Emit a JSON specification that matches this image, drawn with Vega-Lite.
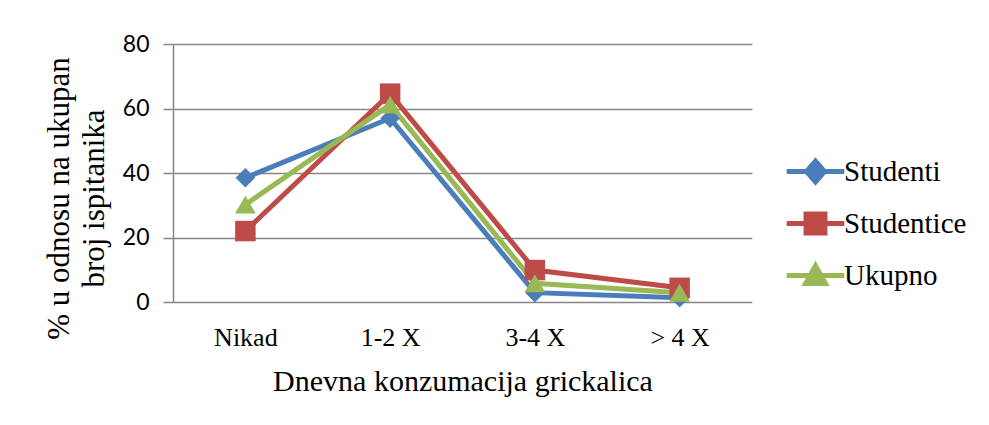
{
  "$schema": "https://vega.github.io/schema/vega-lite/v6.json",
  "width": 579,
  "height": 258,
  "autosize": {"type": "none"},
  "padding": {"left": 173, "top": 44, "right": 237, "bottom": 123},
  "background": "white",
  "config": {"view": {"stroke": null}},
  "data": {
    "values": [
      {"kategorija": "Nikad", "grupa": "Studenti", "vrijednost": 38.5},
      {"kategorija": "1-2 X", "grupa": "Studenti", "vrijednost": 57.0},
      {"kategorija": "3-4 X", "grupa": "Studenti", "vrijednost": 2.9},
      {"kategorija": "> 4 X", "grupa": "Studenti", "vrijednost": 1.3},
      {"kategorija": "Nikad", "grupa": "Studentice", "vrijednost": 22.0},
      {"kategorija": "1-2 X", "grupa": "Studentice", "vrijednost": 64.6},
      {"kategorija": "3-4 X", "grupa": "Studentice", "vrijednost": 9.9},
      {"kategorija": "> 4 X", "grupa": "Studentice", "vrijednost": 4.4},
      {"kategorija": "Nikad", "grupa": "Ukupno", "vrijednost": 30.2},
      {"kategorija": "1-2 X", "grupa": "Ukupno", "vrijednost": 61.2},
      {"kategorija": "3-4 X", "grupa": "Ukupno", "vrijednost": 5.8},
      {"kategorija": "> 4 X", "grupa": "Ukupno", "vrijednost": 2.9}
    ]
  },
  "encoding": {
    "x": {
      "field": "kategorija",
      "type": "nominal",
      "sort": ["Nikad", "1-2 X", "3-4 X", "> 4 X"],
      "axis": {
        "title": "Dnevna konzumacija grickalica",
        "labelAngle": 0,
        "domain": false,
        "ticks": false,
        "grid": false,
        "labelFont": "Liberation Serif",
        "labelFontSize": 26,
        "labelColor": "#000000",
        "labelPadding": 22,
        "titleFont": "Liberation Serif",
        "titleFontSize": 30,
        "titleFontWeight": "normal",
        "titleColor": "#000000",
        "titlePadding": 16
      }
    },
    "y": {
      "field": "vrijednost",
      "type": "quantitative",
      "scale": {"domain": [0, 80], "nice": false},
      "axis": {
        "values": [0, 20, 40, 60, 80],
        "title": ["% u odnosu na ukupan", "broj ispitanika"],
        "titleFont": "Liberation Serif",
        "titleFontSize": 31,
        "titleFontWeight": "normal",
        "titleColor": "#000000",
        "titleLineHeight": 35,
        "titlePadding": 12,
        "titleY": 154,
        "labelFont": "Lato",
        "labelFontSize": 23,
        "labelColor": "#000000",
        "labelPadding": 14,
        "domainColor": "#868686",
        "domainWidth": 1.5,
        "tickColor": "#868686",
        "tickSize": 10,
        "tickWidth": 1.5,
        "gridColor": "#868686",
        "gridWidth": 1.5,
        "gridOpacity": 1
      }
    },
    "color": {
      "field": "grupa",
      "type": "nominal",
      "scale": {
        "domain": ["Studenti", "Studentice", "Ukupno"],
        "range": ["#4A7EBB", "#BE4B48", "#98B954"]
      },
      "legend": {
        "orient": "none",
        "legendX": 628,
        "legendY": 113,
        "title": null,
        "labelFont": "Liberation Serif",
        "labelFontSize": 29,
        "labelColor": "#000000",
        "labelOffset": 14,
        "rowPadding": 12,
        "symbolSize": 324,
        "padding": 0,
        "encode": {
          "symbols": {
            "update": {
              "shape": {"signal": "datum.value === 'Studenti' ? 'M-3.2,0L3.2,0M0,-1.15L1,0L0,1.15L-1,0Z' : datum.value === 'Studentice' ? 'M-3.2,0L3.2,0M-1.05,-1.05L1.05,-1.05L1.05,1.05L-1.05,1.05Z' : 'M-3.2,0L3.2,0M0,-1.1L1.1,0.9L-1.1,0.9Z'"},
              "fill": {"signal": "scale('color', datum.value)"},
              "stroke": {"signal": "scale('color', datum.value)"},
              "strokeWidth": {"value": 5},
              "opacity": {"value": 1}
            }
          }
        }
      }
    }
  },
  "layer": [
    {
      "mark": {"type": "line", "strokeWidth": 5},
      "encoding": {"detail": {"field": "grupa"}}
    },
    {
      "transform": [{"filter": "datum.grupa === 'Studenti'"}],
      "mark": {"type": "point", "shape": "diamond", "filled": true, "opacity": 1, "size": 380}
    },
    {
      "transform": [{"filter": "datum.grupa === 'Studentice'"}],
      "mark": {"type": "point", "shape": "square", "filled": true, "opacity": 1, "size": 420}
    },
    {
      "transform": [{"filter": "datum.grupa === 'Ukupno'"}],
      "mark": {"type": "point", "shape": "triangle-up", "filled": true, "opacity": 1, "size": 430}
    }
  ]
}
